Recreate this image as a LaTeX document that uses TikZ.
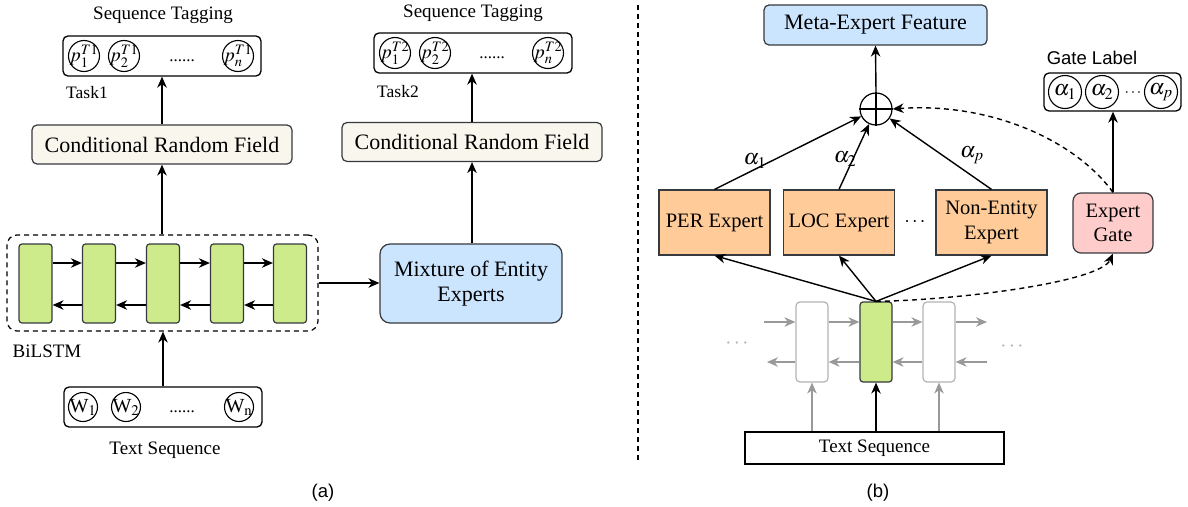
\documentclass[tikz,border=0pt]{standalone}
\usepackage{mathptmx}
\usepackage{fontspec}
\setmainfont{Liberation Serif}
\newfontfamily\sansf{Liberation Sans}
\usetikzlibrary{arrows.meta,calc}
\definecolor{crffill}{HTML}{F9F7ED}
\definecolor{bluefill}{HTML}{CCE5FF}
\definecolor{greenfill}{HTML}{CDEB8B}
\definecolor{orangefill}{HTML}{FFCC99}
\definecolor{pinkfill}{HTML}{FFCCCC}
\definecolor{edgec}{HTML}{36393D}
\definecolor{lgray}{HTML}{B3B3B3}
\definecolor{agray}{HTML}{999999}
\begin{document}
\begin{tikzpicture}[x=1pt,y=-1pt,
  box/.style={draw=edgec, line width=1.2pt, align=center, inner sep=0pt},
  crfbox/.style={box, fill=crffill, rounded corners=5pt, minimum width=260pt, minimum height=39pt, font=\fontsize{22}{25}\selectfont},
  tagbox/.style={draw=black, line width=1.3pt, rounded corners=5pt, minimum width=198pt, minimum height=40pt, inner sep=0pt},
  tagcirc/.style={circle, draw=black, line width=1.1pt, minimum size=31pt, inner sep=0pt},
  wcirc/.style={circle, draw=black, line width=1.1pt, minimum size=29pt, inner sep=0pt},
  acirc/.style={circle, draw=black, line width=1.1pt, minimum size=33pt, inner sep=0pt},
  ctext/.style={font=\fontsize{19.5}{19.5}\selectfont, inner sep=0pt},
  wtext/.style={font=\fontsize{20}{20}\selectfont, inner sep=0pt},
  dtext/.style={font=\fontsize{17}{17}\selectfont, inner sep=0pt},
  atext/.style={font=\fontsize{22}{22}\selectfont, inner sep=0pt},
  cell/.style={draw=edgec, fill=greenfill, line width=1.2pt, rounded corners=3pt, minimum width=33pt, minimum height=79pt, inner sep=0pt},
  graycell/.style={draw=lgray, fill=white, line width=1.2pt, rounded corners=4pt, minimum width=32pt, minimum height=80pt, inner sep=0pt},
  dashbox/.style={draw=black, line width=1.2pt, dash pattern=on 5pt off 4pt, rounded corners=10pt, minimum width=311pt, minimum height=96pt, inner sep=0pt},
  conn/.style={line width=1.4pt, -{Stealth[length=11pt,width=9.5pt,inset=3.5pt]}},
  gconn/.style={line width=1.3pt, draw=agray, -{Stealth[length=11pt,width=9.5pt,inset=3.5pt,fill=agray]}},
  dconn/.style={conn, dash pattern=on 5pt off 4pt},
  expert/.style={box, fill=orangefill, minimum width=111pt, minimum height=65pt, font=\fontsize{20.5}{25}\selectfont},
  t19/.style={font=\fontsize{19}{19}\selectfont, inner sep=0pt},
  sans/.style={font=\sansf\fontsize{18.5}{18.5}\selectfont, inner sep=0pt}
]
\useasboundingbox (0,0) rectangle (1188,506);

% ---------------- (a) ----------------
\node[t19] (st1) at (163,15) {Sequence Tagging};
\node[tagbox] (tag1) at (162,56) {};
\node[tagcirc, label={[ctext]center:$p_1^{T1}$}] (p11) at (84,56) {};
\node[tagcirc, label={[ctext]center:$p_2^{T1}$}] (p12) at (124,56) {};
\node[dtext] (d1) at (182,61) {......};
\node[tagcirc, label={[ctext]center:$p_n^{T1}$}] (p1n) at (238,56) {};
\node[font=\fontsize{17.5}{17.5}\selectfont, inner sep=0pt] (task1) at (87,93) {Task1};
\node[crfbox] (crf1) at (162,144.5) {Conditional Random Field};

\node[dashbox] (bil) at (162.5,283) {};
\node[cell] (c1) at (35.5,283.5) {};
\node[cell] (c2) at (99,283.5) {};
\node[cell] (c3) at (163,283.5) {};
\node[cell] (c4) at (227,283.5) {};
\node[cell] (c5) at (290,283.5) {};
\foreach \a/\b in {c1/c2,c2/c3,c3/c4,c4/c5}{
  \draw[conn] ([yshift=20.5pt]\a.east) -- ([yshift=20.5pt]\b.west);
  \draw[conn] ([yshift=-21.5pt]\b.west) -- ([yshift=-21.5pt]\a.east);
}
\node[t19] (bl) at (47,351) {BiLSTM};

\node[tagbox] (words) at (163,407) {};
\node[wcirc, label={[wtext]center:W$_1$}] (w1) at (83,407) {};
\node[wcirc, label={[wtext]center:W$_2$}] (w2) at (126,407) {};
\node[dtext] (d3) at (182,412) {......};
\node[wcirc, label={[wtext]center:W$_\mathrm{n}$}] (wn) at (239,407) {};
\node[t19] (ts1) at (165,450) {Text Sequence};
\node[sans] (la) at (323,493) {(a)};

\draw[conn] (words.north) -- (bil.south -| words.north);
\draw[conn] (bil.north -| crf1.south) -- (crf1.south);
\draw[conn] (crf1.north) -- (crf1.north |- tag1.south);

% task 2
\node[t19] (st2) at (473,13) {Sequence Tagging};
\node[tagbox] (tag2) at (473,53) {};
\node[tagcirc, label={[ctext]center:$p_1^{T2}$}] (p21) at (395,53) {};
\node[tagcirc, label={[ctext]center:$p_2^{T2}$}] (p22) at (435,53) {};
\node[dtext] (d2) at (492,58) {......};
\node[tagcirc, label={[ctext]center:$p_n^{T2}$}] (p2n) at (548,53) {};
\node[font=\fontsize{17.5}{17.5}\selectfont, inner sep=0pt] (task2) at (398,92) {Task2};
\node[crfbox] (crf2) at (472,142) {Conditional Random Field};
\node[box, fill=bluefill, rounded corners=10pt, minimum width=182pt, minimum height=79pt, font=\fontsize{22}{25}\selectfont] (mix) at (471,283.5) {Mixture of Entity\\Experts};

\draw[conn] (bil.east) -- (mix.west |- bil.east);
\draw[conn] (mix.north -| crf2.south) -- (crf2.south);
\draw[conn] (crf2.north) -- (crf2.north |- tag2.south);

% separator
\coordinate (sepT) at (638,5);
\coordinate (sepB) at (638,462);
\draw[line width=1.2pt, dash pattern=on 5pt off 4pt] (sepT) -- (sepB);

% ---------------- (b) ----------------
\node[box, fill=bluefill, rounded corners=5pt, minimum width=223pt, minimum height=40pt, font=\fontsize{22}{25}\selectfont] (meta) at (875.5,25) {Meta-Expert Feature};
\node[circle, draw=black, line width=1.2pt, minimum size=32pt, inner sep=0pt] (plus) at (876,109) {};
\draw[line width=1.2pt] (plus.north) -- (plus.south) (plus.west) -- (plus.east);
\draw[conn] (plus.north) -- (meta.south);

\node[expert] (per) at (714.5,222.5) {PER Expert};
\node[expert] (loc) at (839,222.5) {LOC Expert};
\node[expert] (non) at (991.5,222.5) {Non-Entity\\Expert};
\node[font=\fontsize{20}{20}\selectfont, inner sep=0pt] (edots) at (915,222) {$\cdots$};
\node[box, fill=pinkfill, rounded corners=8pt, minimum width=80pt, minimum height=60pt, font=\fontsize{20.5}{24}\selectfont] (gate) at (1113,223) {Expert\\Gate};

\node[sans] (gl) at (1092,58) {Gate Label};
\node[tagbox, minimum width=137pt, minimum height=38pt] (glbox) at (1112.5,92) {};
\node[acirc, label={[atext]center:$\alpha_1$}] (ga1) at (1065,92) {};
\node[acirc, label={[atext]center:$\alpha_2$}] (ga2) at (1102,92) {};
\node[font=\fontsize{16}{16}\selectfont, inner sep=0pt] (gdots) at (1133,93) {$\cdots$};
\node[acirc, label={[atext]center:$\alpha_p$}] (gap) at (1161,92) {};

\draw[conn] (per.north) -- (plus);
\draw[conn] (loc.north) -- (plus);
\draw[conn] (non.north) -- (plus);
\node[atext] (al1) at (755,161) {$\alpha_1$};
\node[atext] (al2) at (845,159) {$\alpha_2$};
\node[atext] (alp) at (972,155) {$\alpha_p$};
\draw[conn] (gate.north) -- (gate.north |- glbox.south);
\draw[dconn] (gate.north) .. controls (1075,140) and (990,102) .. (plus.east);

% lower BiLSTM
\node[graycell] (g1) at (812,342) {};
\node[cell, minimum width=32pt, minimum height=80pt] (gc) at (876,342) {};
\node[graycell] (g2) at (939,342) {};
\coordinate (inR) at (764,322);
\coordinate (outR) at (987,322);
\coordinate (outL) at (767,362);
\coordinate (inL) at (987,362);
\draw[gconn] (inR) -- ([yshift=20pt]g1.west);
\draw[gconn] ([yshift=20pt]g1.east) -- ([yshift=20pt]gc.west);
\draw[gconn] ([yshift=20pt]gc.east) -- ([yshift=20pt]g2.west);
\draw[gconn] ([yshift=20pt]g2.east) -- (outR);
\draw[gconn] ([yshift=-20pt]g1.west) -- (outL);
\draw[gconn] ([yshift=-20pt]gc.west) -- ([yshift=-20pt]g1.east);
\draw[gconn] ([yshift=-20pt]g2.west) -- ([yshift=-20pt]gc.east);
\draw[gconn] (inL) -- ([yshift=-20pt]g2.east);
\node[font=\fontsize{22}{22}\selectfont, text=lgray, inner sep=0pt] (ld) at (737,344) {$\cdots$};
\node[font=\fontsize{22}{22}\selectfont, text=lgray, inner sep=0pt] (rd) at (1012,347) {$\cdots$};

\node[draw=black, line width=1.3pt, minimum width=259pt, minimum height=32pt, inner sep=0pt, font=\fontsize{19}{19}\selectfont] (tsb) at (874.5,448) {Text Sequence};
\draw[gconn] (tsb.north -| g1.south) -- (g1.south);
\draw[conn] (tsb.north -| gc.south) -- (gc.south);
\draw[gconn] (tsb.north -| g2.south) -- (g2.south);

\draw[conn] (gc.north) -- (per.south);
\draw[conn] (gc.north) -- (loc.south);
\draw[conn] (gc.north) -- (non.south);
\draw[dconn] (gc.north) .. controls (960,300) and (1100,282) .. (gate.south);

\node[sans] (lb) at (878,493) {(b)};
\end{tikzpicture}
\end{document}
